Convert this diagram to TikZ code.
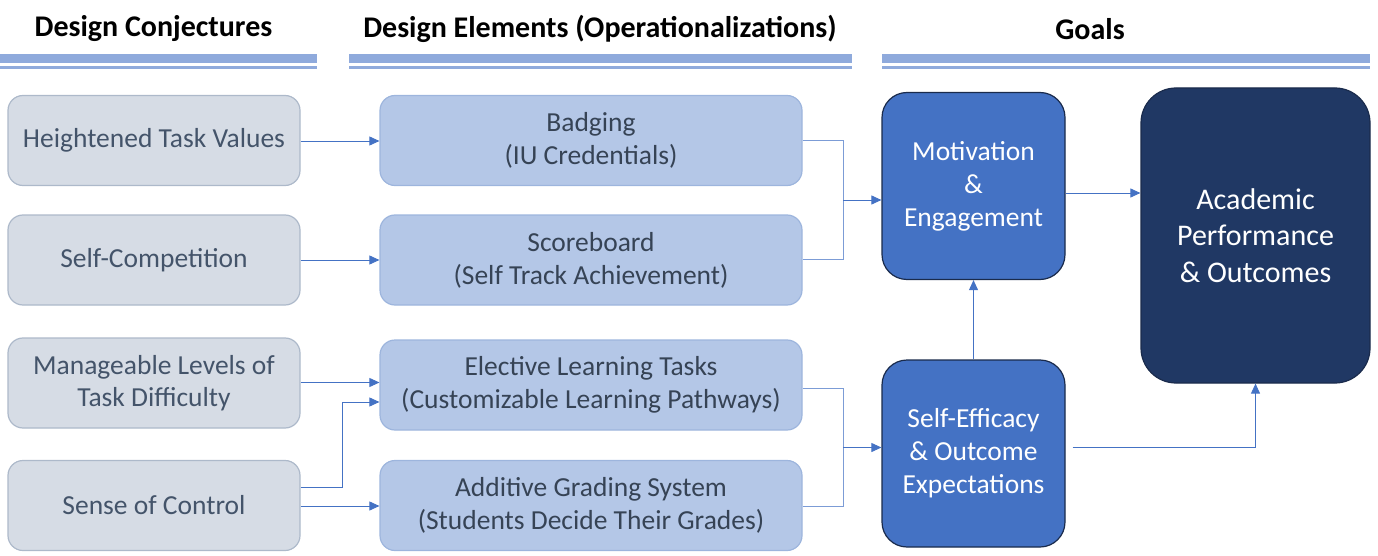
\documentclass[tikz,border=0pt]{standalone}
\usepackage{fontspec}
\setmainfont{Carlito}
\usetikzlibrary{arrows.meta,calc}
\definecolor{grayfill}{HTML}{D6DCE5}
\definecolor{grayedge}{HTML}{ADB9CA}
\definecolor{bluefill}{HTML}{B4C7E7}
\definecolor{blueedge}{HTML}{9DB5DD}
\definecolor{midblue}{HTML}{4472C4}
\definecolor{darkblue}{HTML}{203864}
\definecolor{darkedge}{HTML}{1A2B4C}
\definecolor{bandblue}{HTML}{8FAADC}
\definecolor{txtgray}{HTML}{44546A}
\definecolor{linkblue}{HTML}{4472C4}
\begin{document}
\begin{tikzpicture}[x=1pt,y=-1pt,
  conj/.style={draw=grayedge,fill=grayfill,line width=1.2pt,rounded corners=15pt,
    text=txtgray,align=center,font=\fontsize{27.5}{32}\selectfont,
    minimum width=292pt,minimum height=90pt,inner sep=0pt},
  elem/.style={draw=blueedge,fill=bluefill,line width=1.2pt,rounded corners=15pt,
    text=txtgray!80!black,align=center,font=\fontsize{27.5}{33}\selectfont,
    minimum width=422pt,minimum height=90pt,inner sep=0pt},
  goal/.style={draw=darkedge,fill=midblue,line width=1.2pt,rounded corners=25pt,
    text=white,align=center,font=\fontsize{27.5}{33}\selectfont,
    minimum width=183pt,minimum height=187pt,inner sep=0pt},
  final/.style={draw=darkedge,fill=darkblue,line width=1.2pt,rounded corners=35pt,
    text=white,align=center,font=\fontsize{30}{36.5}\selectfont,
    minimum width=229pt,minimum height=295pt,inner sep=0pt},
  head/.style={font=\bfseries\fontsize{30}{34}\selectfont,text=black,inner sep=0pt},
  arr/.style={draw=linkblue,line width=0.9pt,-{Triangle[length=10pt,width=9pt]}},
  link/.style={draw=linkblue!70,line width=0.9pt},
  band/.style={fill=bandblue,draw=none}]
\useasboundingbox (0,0) rectangle (1378,556);
% headers
\node[head] (h1) at (153.5,29) {Design Conjectures};
\node[head] (h2) at (600,29) {Design Elements (Operationalizations)};
\node[head] (h3) at (1090,29) {Goals};
\foreach \a/\b in {0/317,349/852,882/1370}{
  \fill[band] (\a,54) rectangle (\b,63);
  \fill[band] (\a,66) rectangle (\b,69);
}
% column 1
\node[conj] (htv) at (154,140.5) {Heightened Task Values};
\node[conj] (sc) at (154,260) {Self-Competition};
\node[conj] (mlt) at (154,383) {Manageable Levels of\\Task Difficulty};
\node[conj] (soc) at (154,505.5) {Sense of Control};
% column 2
\node[elem] (bad) at (591,140.5) {Badging\\(IU Credentials)};
\node[elem] (sco) at (591,260) {Scoreboard\\(Self Track Achievement)};
\node[elem] (elt) at (591,385) {Elective Learning Tasks\\(Customizable Learning Pathways)};
\node[elem] (ags) at (591,505.5) {Additive Grading System\\(Students Decide Their Grades)};
% goals
\node[goal] (mot) at (973.5,186) {Motivation\\\&\\Engagement};
\node[goal] (sef) at (973.5,453.5) {Self-Efficacy\\\& Outcome\\Expectations};
\node[final] (aca) at (1255.5,235.5) {Academic\\Performance\\\& Outcomes};
% connectors col1 -> col2
\draw[arr] (htv.east |- 0,141) -- (bad.west |- 0,141);
\draw[arr] (sc.east |- 0,260) -- (sco.west |- 0,260);
\draw[arr] (mlt.east |- 0,382.5) -- (elt.west |- 0,382.5);
\draw[arr] (soc.east |- 0,487) -| (342,402) -- (elt.west |- 0,402);
\draw[arr] (soc.east |- 0,506) -- (ags.west |- 0,506);
% col2 -> goals
\coordinate (m1) at (843,200);
\draw[link] (bad.east |- 0,140.5) -| (m1);
\draw[link] (sco.east |- 0,259) -| (m1);
\draw[arr] (m1) -- (mot.west |- m1);
\coordinate (m2) at (843,447.5);
\draw[link] (elt.east |- 0,388) -| (m2);
\draw[link] (ags.east |- 0,506.5) -| (m2);
\draw[arr] (m2) -- (sef.west |- m2);
% goals
\draw[arr] (sef.north) -- (mot.south);
\draw[arr] (mot.east |- 0,193) -- (aca.west |- 0,193);
\draw[arr] ($(sef.east |- 0,447)+(7,0)$) -| (aca.south);
\end{tikzpicture}
\end{document}
